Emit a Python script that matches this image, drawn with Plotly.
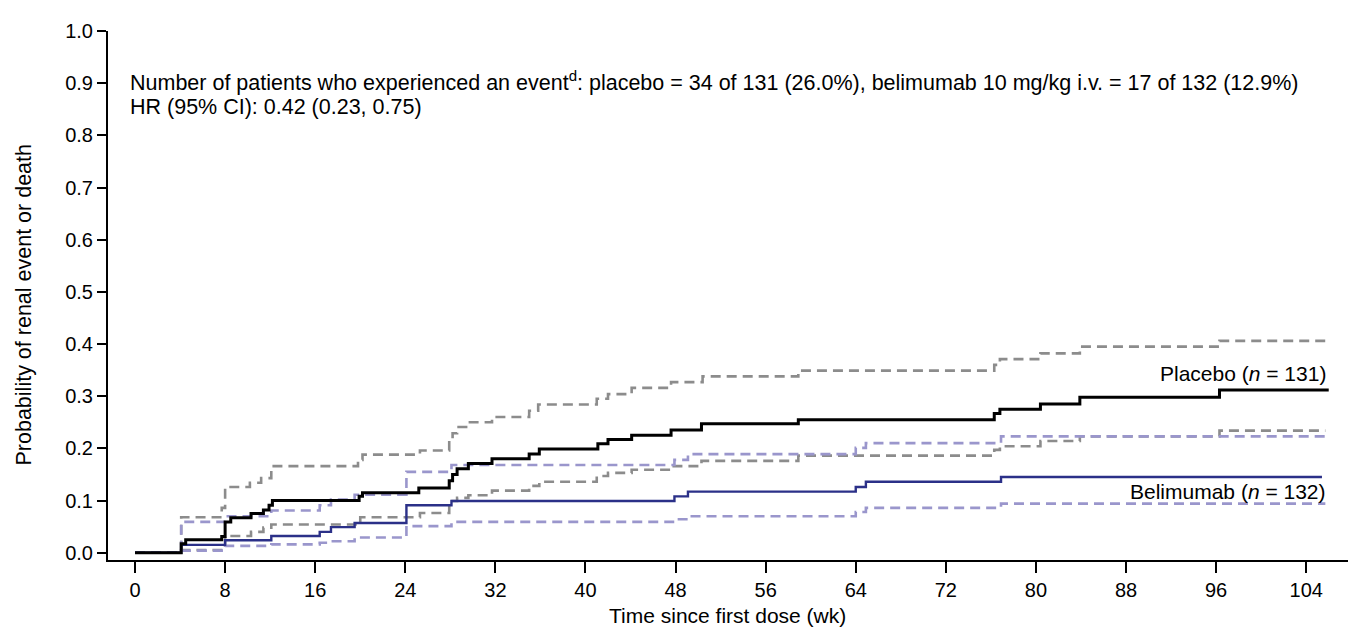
import plotly.graph_objects as go

# Placebo KM estimate (weeks, probability)
t_placebo = [0, 4.1, 4.5, 7.7, 8.0, 8.5, 10.3, 11.4, 11.9, 12.2, 19.9, 20.2, 25.2, 27.9, 28.2, 28.6, 29.6,
             31.7, 35.0, 35.9, 41.1, 42.0, 44.1, 47.6, 50.3, 58.9, 76.3, 76.8, 80.4, 83.9, 96.3, 106.0]
p_placebo = [0, 0.017, 0.025, 0.031, 0.059, 0.067, 0.075, 0.082, 0.091, 0.100, 0.108, 0.115, 0.124, 0.138,
             0.150, 0.161, 0.171, 0.180, 0.189, 0.199, 0.209, 0.217, 0.225, 0.235, 0.247, 0.255, 0.267,
             0.275, 0.285, 0.298, 0.312, 0.312]

t_placebo_hi = [0, 4.1, 7.7, 8.0, 10.2, 11.2, 12.1, 19.8, 20.2, 25.3, 27.9, 28.2, 28.6, 29.4, 31.7, 35.0,
                35.8, 41.0, 42.0, 44.1, 47.6, 50.4, 58.9, 76.3, 76.8, 80.4, 83.9, 96.3, 105.7]
p_placebo_hi = [0, 0.068, 0.086, 0.126, 0.134, 0.143, 0.166, 0.178, 0.188, 0.196, 0.217, 0.229, 0.241,
                0.250, 0.260, 0.272, 0.284, 0.295, 0.304, 0.316, 0.327, 0.338, 0.349, 0.360, 0.371,
                0.382, 0.395, 0.406, 0.406]

t_placebo_lo = [0, 4.1, 8.0, 10.3, 11.4, 12.1, 20.0, 25.3, 27.9, 28.2, 28.6, 29.6, 31.7, 35.0, 35.9,
                41.0, 42.0, 44.1, 47.6, 50.3, 58.9, 76.3, 76.8, 80.4, 83.9, 96.3, 105.7]
p_placebo_lo = [0, 0.005, 0.032, 0.040, 0.048, 0.054, 0.068, 0.076, 0.092, 0.099, 0.105, 0.110, 0.119,
                0.128, 0.136, 0.147, 0.153, 0.159, 0.166, 0.176, 0.186, 0.197, 0.204, 0.214, 0.223,
                0.234, 0.234]

# Belimumab KM estimate
t_belim = [0, 4.1, 8.0, 12.1, 16.4, 17.4, 19.5, 24.1, 28.1, 47.9, 49.1, 64.0, 64.9, 76.9, 105.4]
p_belim = [0, 0.015, 0.024, 0.032, 0.040, 0.049, 0.057, 0.091, 0.099, 0.108, 0.117, 0.126, 0.136,
           0.145, 0.145]

t_belim_hi = [0, 4.1, 8.0, 12.1, 16.4, 17.4, 19.5, 24.1, 28.1, 47.9, 49.1, 64.0, 64.9, 76.9, 105.7]
p_belim_hi = [0, 0.059, 0.070, 0.081, 0.091, 0.102, 0.111, 0.155, 0.168, 0.178, 0.189, 0.201, 0.210,
              0.223, 0.223]

t_belim_lo = [0, 4.1, 8.0, 12.1, 16.4, 17.4, 19.5, 24.1, 28.1, 47.9, 49.1, 64.0, 64.9, 76.9, 105.7]
p_belim_lo = [0, 0.004, 0.013, 0.016, 0.019, 0.022, 0.029, 0.051, 0.059, 0.064, 0.070, 0.078, 0.086,
              0.094, 0.094]

x_ticks = list(range(0, 105, 8))
y_ticks = [i / 10 for i in range(0, 11)]

FONT = "Arial, Liberation Sans, sans-serif"
GRAY = "#8c8c8c"
LAV = "#9a96cc"
NAVY = "#2b3088"
FS = 20

fig = go.Figure()

def add(t, p, color, dash, width):
    fig.add_trace(go.Scatter(x=t, y=p, mode="lines", line=dict(color=color, dash=dash, width=width, shape="hv"),
                             showlegend=False, hoverinfo="skip"))

add(t_placebo_hi, p_placebo_hi, GRAY, "10px,6px", 2.6)
add(t_placebo_lo, p_placebo_lo, GRAY, "10px,6px", 2.6)
add(t_belim_hi, p_belim_hi, LAV, "10px,6px", 2.6)
add(t_belim_lo, p_belim_lo, LAV, "10px,6px", 2.6)
add(t_belim, p_belim, NAVY, "solid", 2.4)
add(t_placebo, p_placebo, "black", "solid", 3)

fig.add_annotation(x=-0.6, y=0.905, xref="x", yref="y", xanchor="left", yanchor="middle", showarrow=False,
                   text="Number of patients who experienced an event<sup>d</sup>: placebo = 34 of 131 (26.0%), "
                        "belimumab 10 mg/kg i.v. = 17 of 132 (12.9%)",
                   font=dict(family=FONT, size=21.5, color="black"))
fig.add_annotation(x=-0.6, y=0.855, xref="x", yref="y", xanchor="left", yanchor="middle", showarrow=False,
                   text="HR (95% CI): 0.42 (0.23, 0.75)", font=dict(family=FONT, size=21.5, color="black"))
fig.add_annotation(x=105.9, y=0.343, xref="x", yref="y", xanchor="right", yanchor="middle", showarrow=False,
                   text="Placebo (<i>n</i> = 131)", font=dict(family=FONT, size=21, color="black"))
fig.add_annotation(x=105.9, y=0.118, xref="x", yref="y", xanchor="right", yanchor="middle", showarrow=False,
                   text="Belimumab (<i>n</i> = 132)", font=dict(family=FONT, size=21, color="black"))

# axis titles
fig.add_annotation(x=0.5, y=0, xref="paper", yref="paper", yshift=-42, xshift=-6, xanchor="center",
                   yanchor="top", showarrow=False, text="Time since first dose (wk)",
                   font=dict(family=FONT, size=21, color="black"))
fig.add_annotation(x=0, y=0.5, xref="paper", yref="paper", xshift=-85, yshift=-9, xanchor="center",
                   yanchor="middle", textangle=-90, showarrow=False, text="Probability of renal event or death",
                   font=dict(family=FONT, size=21.5, color="black"))

fig.update_layout(
    width=1356, height=628,
    margin=dict(l=100, r=6, t=23, b=76),
    plot_bgcolor="white", paper_bgcolor="white",
    font=dict(family=FONT, size=FS, color="black"),
    xaxis=dict(range=[-2.4, 108.6], tickvals=x_ticks, ticktext=[str(v) for v in x_ticks],
               showline=True, linecolor="black", linewidth=2, ticks="outside", ticklen=11, tickwidth=2,
               tickcolor="black", showgrid=False, zeroline=False, tickfont=dict(size=FS)),
    yaxis=dict(range=[-0.014, 1.0], tickvals=y_ticks, ticktext=[f"{v:.1f}" for v in y_ticks],
               showline=True, linecolor="black", linewidth=2, ticks="outside", ticklen=9, tickwidth=2,
               tickcolor="black", showgrid=False, zeroline=False, tickfont=dict(size=FS)),
)

fig.write_html("out.html")
